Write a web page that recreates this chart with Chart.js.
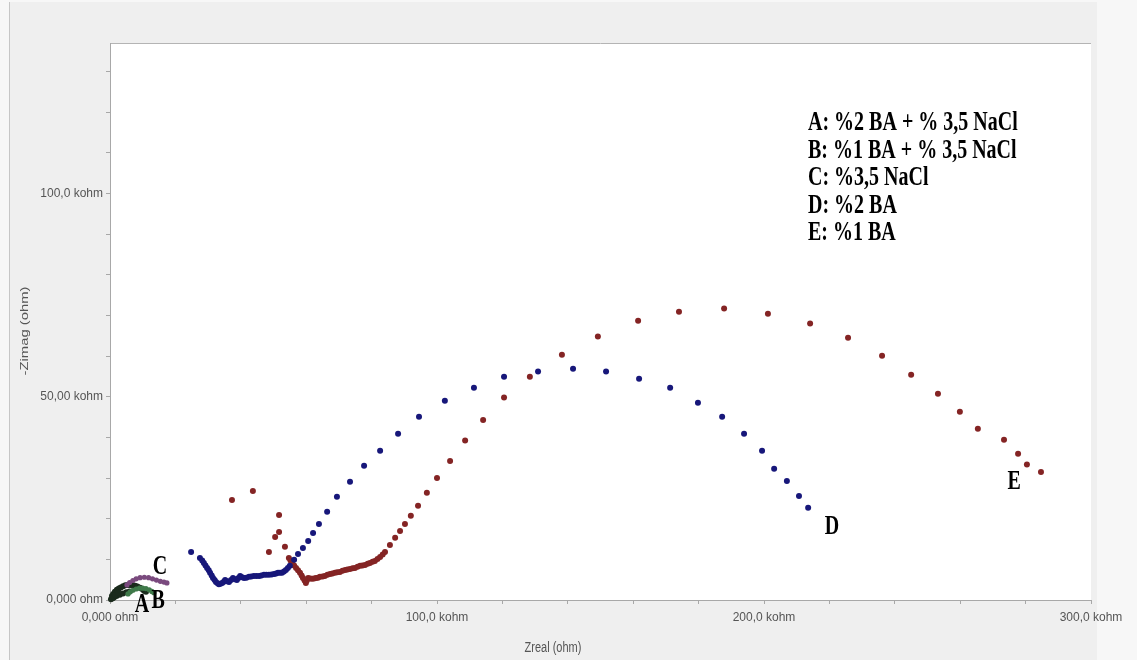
<!DOCTYPE html>
<html>
<head>
<meta charset="utf-8">
<script src="https://cdn.jsdelivr.net/npm/chart.js@4.4.1/dist/chart.umd.min.js"></script>
<style>
html, body { margin:0; padding:0; background:#f7f7f7; }
#wrap { width:1137px; height:660px; position:relative; }
</style>
</head>
<body>
<div id="wrap"><canvas id="nyquist" width="1137" height="660"></canvas></div>
<script>

// values in kohm: [Zreal, -Zimag]
const seriesD = [
 [24.8,11.8],[27.5,10.3],[28.2,9.7],[28.7,9.1],[29.2,8.5],[29.7,7.9],[30.2,7.3],[30.6,6.7],
 [31.1,6.0],[31.5,5.4],[32.0,4.9],[32.4,4.4],[32.9,4.1],[33.3,3.9],[33.8,4.0],[34.3,4.2],
 [34.8,4.5],[35.2,4.9],[35.8,4.6],[36.4,4.4],[37.0,4.9],[37.6,5.4],[38.2,5.1],[38.8,4.9],
 [39.3,5.4],[39.8,5.9],[40.4,5.6],[41.0,5.4],[41.7,5.5],[42.5,5.7],[43.2,5.8],[44.0,5.9],
 [44.8,5.9],[45.6,5.9],[46.3,6.0],[47.1,6.2],[47.8,6.2],[48.6,6.2],[49.4,6.3],[50.2,6.4],
 [50.8,6.5],[51.4,6.7],[52.0,6.7],[52.6,6.7],[53.2,7.0],[53.8,7.4],[54.4,7.9],[55.0,8.4],
 [56.3,9.9],[57.5,11.3],[59.0,12.8],[60.6,14.5],[62.1,16.5],[63.9,18.7],
 [66.4,21.7],[69.4,25.4],[73.4,29.1],[77.7,33.0],[82.6,36.7],[88.1,40.9],[94.5,45.1],
 [102.4,49.0],[111.3,52.2],[120.5,54.9],[130.9,56.2],[141.6,56.9],[151.7,56.2],[161.8,54.4],
 [171.3,52.2],[179.8,48.5],[187.2,45.1],[193.9,40.9],[199.4,36.7],[203.1,32.3],[207.0,29.3],
 [210.7,25.6],[213.5,22.7]
];

const seriesE = [
 [37.3,24.6],[43.7,26.8],[51.7,20.9],[51.7,16.7],[50.5,15.5],[53.5,13.1],[48.6,11.8],[54.7,10.3],
 [55.2,9.7],[55.7,9.1],[56.3,8.5],[56.9,7.9],[57.5,7.3],[58.1,6.7],[58.6,6.0],[59.0,5.4],
 [59.5,4.8],[59.9,4.2],[60.2,4.8],[60.6,5.4],[61.2,5.3],[61.8,5.2],[62.4,5.3],[63.0,5.4],
 [63.6,5.5],[64.2,5.7],[65.0,5.8],[65.7,5.9],[66.5,6.2],[67.3,6.4],[68.0,6.5],[68.8,6.7],
 [69.5,6.8],[70.3,6.9],[71.1,7.2],[71.9,7.4],[72.6,7.5],[73.4,7.6],[74.2,7.8],[74.9,7.9],
 [75.7,8.2],[76.5,8.4],[77.2,8.5],[78.0,8.6],[78.8,8.9],[79.5,9.1],[80.3,9.4],[81.0,9.6],
 [81.8,10.1],[82.6,10.6],[83.4,11.2],[84.1,11.8],[85.6,13.5],[87.2,15.3],
 [88.7,17.0],[90.2,18.7],[92.0,20.7],[94.2,23.2],
 [96.9,26.4],[100.0,30.0],[104.0,34.2],
 [108.6,39.2],[114.1,44.3],[120.5,49.8],[128.4,54.9],[138.2,60.3],[149.2,64.8],[161.5,68.7],
 [174.0,70.9],[187.8,71.7],[201.2,70.4],[214.1,68.0],[225.7,64.5],[236.1,60.1],[245.0,55.4],
 [253.2,50.7],[259.9,46.3],[265.4,42.1],[273.4,39.4],[277.7,36.0],[280.4,33.3],[284.7,31.5]
];

const seriesA = [
 [0.3,0.2],[0.6,1.0],[1.0,1.5],[1.5,2.0],[2.1,2.5],[2.7,2.8],[3.3,3.1],[4.0,3.4],[4.7,3.6],
 [5.5,3.7],[6.2,3.7],[7.0,3.6],[7.7,3.5],[8.4,3.3],[9.2,3.0],[9.8,2.7],[10.4,2.3],[11.0,2.0],
 [0.8,0.4],[1.2,0.6],[2.0,1.0],[3.0,1.3],[4.0,1.6],[5.0,1.9],[6.0,2.1],[1.5,1.2],[2.5,1.8]
];

const seriesB = [
 [5.5,1.5],[6.2,2.0],[7.0,2.4],[8.0,2.7],[9.0,2.9],[10.0,2.9],[11.0,2.8],[12.0,2.5],[12.8,2.1],[13.4,1.8]
];

const seriesC = [
 [5.2,3.7],[6.0,4.3],[7.0,4.8],[8.0,5.2],[9.2,5.5],[10.5,5.6],[11.8,5.5],[13.0,5.2],[14.2,4.9],
 [15.4,4.6],[16.5,4.4],[17.4,4.2]
];

const xTicksMajor = [0, 100, 200, 300];
const yTicksMajor = [0, 50, 100];

const legendLines = [
 'A: %2 BA + % 3,5 NaCl',
 'B: %1 BA + % 3,5 NaCl',
 'C: %3,5 NaCl',
 'D: %2 BA',
 'E: %1 BA'
];

const curveLetters = ['A', 'B', 'C', 'D', 'E'];
// letter anchor positions, in data units
const letterPos = [[9.8,-1.2],[14.7,-0.2],[15.3,8.1],[220.8,18.0],[276.5,29.1]];

function fmtOhm(v){
    if(v === 0) return '0,000 ohm';
    let s;
    if(v >= 100) s = v.toFixed(1);
    else if(v >= 10) s = v.toFixed(2);
    else s = v.toFixed(3);
    return s.replace('.', ',') + ' kohm';
}

function toPts(arr){
    return arr.map(p => ({x:p[0], y:p[1]}));
}

function tallText(ctx, text, x, y, align){
    ctx.save();
    ctx.translate(x, y);
    ctx.scale(1, 1.35);
    ctx.textAlign = align;
    ctx.textBaseline = 'middle';
    ctx.fillText(text, 0, 0);
    ctx.restore();
}

const framePlugin = {
    id:'frame',
    beforeDraw(chart){
        const ctx = chart.ctx;
        const a = chart.chartArea;
        ctx.save();
        ctx.fillStyle = '#efefef';
        ctx.fillRect(9, 2, 1088, 658);
        ctx.strokeStyle = '#c6c6c6';
        ctx.lineWidth = 1;
        ctx.beginPath();
        ctx.moveTo(9.5, 2);
        ctx.lineTo(9.5, 660);
        ctx.stroke();
        ctx.fillStyle = '#ffffff';
        ctx.fillRect(a.left, a.top, a.right - a.left, a.bottom - a.top);
        ctx.strokeStyle = '#b4b4b4';
        ctx.beginPath();
        ctx.moveTo(a.left, a.top + 0.5);
        ctx.lineTo(a.right, a.top + 0.5);
        ctx.stroke();
        ctx.restore();
    },
    afterDraw(chart){
        const ctx = chart.ctx;
        const xs = chart.scales.x;
        const ys = chart.scales.y;
        ctx.save();
        ctx.fillStyle = '#555555';
        ctx.font = '11px "Liberation Sans", Arial, sans-serif';
        tallText(ctx, 'Zreal (ohm)', 553, 648, 'center');
        ctx.save();
        ctx.translate(25, 331);
        ctx.rotate(-Math.PI / 2);
        ctx.scale(1.35, 1);
        ctx.textAlign = 'center';
        ctx.textBaseline = 'middle';
        ctx.fillText('-Zimag (ohm)', 0, 0);
        ctx.restore();

        ctx.fillStyle = '#000000';
        ctx.font = 'bold 20px "Liberation Serif", "Times New Roman", serif';
        legendLines.forEach((line, i) => {
            tallText(ctx, line, 808, 123 + i * 27.6, 'left');
        });
        curveLetters.forEach((t, i) => {
            const px = xs.getPixelForValue(letterPos[i][0]);
            const py = ys.getPixelForValue(letterPos[i][1]);
            tallText(ctx, t, px, py, 'center');
        });
        ctx.restore();
    }
};

const ctx = document.getElementById('nyquist').getContext('2d');

new Chart(ctx, {
    type:'scatter',
    data:{
        datasets:[
            {label:'C', data:toPts(seriesC), backgroundColor:'#7a4a7e', borderColor:'#7a4a7e', pointRadius:2.6, clip:false},
            {label:'B', data:toPts(seriesB), backgroundColor:'#3f7a4a', borderColor:'#3f7a4a', pointRadius:2.6, clip:false},
            {label:'A', data:toPts(seriesA), backgroundColor:'#1b2b1d', borderColor:'#1b2b1d', pointRadius:3, clip:false},
            {label:'D', data:toPts(seriesD), backgroundColor:'#17177a', borderColor:'#17177a', pointRadius:3, clip:false},
            {label:'E', data:toPts(seriesE), backgroundColor:'#842424', borderColor:'#842424', pointRadius:3, clip:false}
        ]
    },
    options:{
        responsive:false,
        animation:false,
        layout:{padding:{left:0, top:43, right:46, bottom:0}},
        plugins:{legend:{display:false}, tooltip:{enabled:false}},
        elements:{point:{borderWidth:0, hoverRadius:3}},
        scales:{
            x:{
                type:'linear',
                min:0, max:300,
                afterFit(scale){ scale.height = 60; },
                ticks:{
                    stepSize:20,
                    autoSkip:false,
                    maxRotation:0,
                    padding:6,
                    color:'#555',
                    font:{family:'"Liberation Sans", Arial, sans-serif', size:12},
                    callback:v => xTicksMajor.includes(v) ? fmtOhm(v) : ''
                },
                grid:{drawOnChartArea:false, drawTicks:true, tickLength:4, color:'#a8a8a8'},
                border:{display:true, color:'#a8a8a8'}
            },
            y:{
                type:'linear',
                min:0, max:137,
                afterFit(scale){ scale.width = 110; },
                afterBuildTicks(scale){ scale.ticks = scale.ticks.filter(t => t.value % 10 === 0); },
                ticks:{
                    stepSize:10,
                    autoSkip:false,
                    padding:3,
                    color:'#555',
                    font:{family:'"Liberation Sans", Arial, sans-serif', size:12},
                    callback:v => yTicksMajor.includes(v) ? fmtOhm(v) : ''
                },
                grid:{drawOnChartArea:false, drawTicks:true, tickLength:4, color:'#a8a8a8'},
                border:{display:true, color:'#a8a8a8'}
            }
        }
    },
    plugins:[framePlugin]
});
</script>
</body>
</html>
